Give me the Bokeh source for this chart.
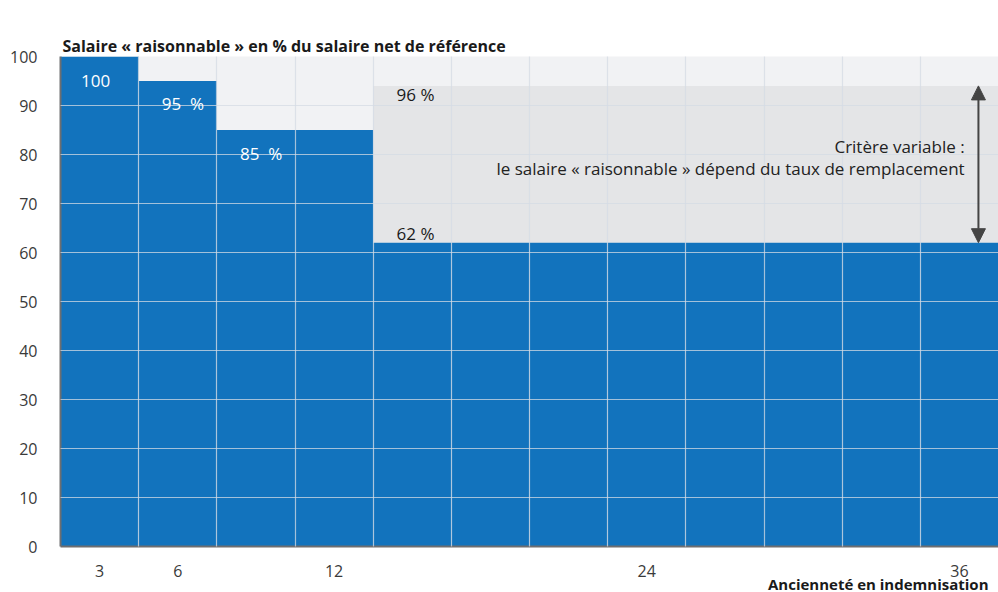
from bokeh.plotting import figure
from bokeh.models import (FixedTicker, Label, Arrow, NormalHead, Title)
from bokeh.embed import file_html
from bokeh.resources import INLINE

# ---- data ----
months = [3, 6, 9, 12, 15, 18, 21, 24, 27, 30, 33, 36]
salaire = [100, 95, 85, 85, 62, 62, 62, 62, 62, 62, 62, 62]
band_low = [62] * 8
band_high = [94] * 8
band_months = months[4:]
x_tick_labels = [3, 6, 12, 24, 36]
y_ticks = list(range(0, 101, 10))
step = 3

FONT = "Open Sans"
BLUE = "#1273bd"

p = figure(width=998, height=592, output_backend="svg", toolbar_location=None,
           title=None,
           x_range=(months[0] - step / 2, months[-1] + step / 2), y_range=(0, 100),
           min_border_left=60, min_border_right=0, min_border_top=56,
           min_border_bottom=46)

p.background_fill_color = "#f1f2f4"
p.border_fill_color = "white"
p.outline_line_color = None

# grey band (variable criterion)
p.vbar(x=band_months, bottom=band_low, top=band_high, width=step,
       fill_color="#e4e5e7", line_color=None)
# bars
p.vbar(x=months, top=salaire, width=step, fill_color=BLUE, line_color=None)

# grids
bounds = [m + step / 2 for m in months[:-1]]
p.xgrid.ticker = FixedTicker(ticks=bounds)
p.ygrid.ticker = FixedTicker(ticks=y_ticks)
for g in (p.xgrid, p.ygrid):
    g.level = "guide"
    g.grid_line_color = "#d4dbe4"
    g.grid_line_alpha = 0.75
    g.grid_line_width = 1.2

# axes
p.xaxis.ticker = FixedTicker(ticks=x_tick_labels)
p.yaxis.ticker = FixedTicker(ticks=y_ticks)
for ax in (p.xaxis, p.yaxis):
    ax.axis_line_color = "#6d6e71"
    ax.axis_line_width = 2
    ax.major_tick_line_color = None
    ax.minor_tick_line_color = None
    ax.major_label_text_font = FONT
    ax.major_label_text_font_size = "16px"
    ax.major_label_text_color = "#3a3a3a"
p.yaxis.major_label_standoff = 17
p.xaxis.major_label_standoff = 12

# x axis title, right aligned, below the tick labels
p.add_layout(Title(text="Ancienneté en indemnisation", align="right",
                   text_font=FONT, text_font_style="bold", text_font_size="15px",
                   text_color="#1a1a1a", standoff=-15, offset=10), "below")

# chart title first, then an invisible spacer (ends up between title and frame)
p.add_layout(Title(text="Salaire « raisonnable » en % du salaire net de référence",
                   text_font=FONT, text_font_style="bold", text_font_size="16px",
                   text_color="#1a1a1a", standoff=0, offset=2, align="left"), "above")
p.add_layout(Title(text=".", text_alpha=0, text_font=FONT, text_font_style="bold",
                   text_font_size="16px", standoff=2), "above")

# bar labels
lab = dict(text_font=FONT, text_font_size="17px", text_baseline="middle")
p.add_layout(Label(x=months[0] - 0.15, y=95.1, text="100", text_align="center",
                   text_color="white", **lab))
p.add_layout(Label(x=months[1] + 0.2, y=90.4, text="95\u00a0\u00a0%", text_align="center",
                   text_color="white", **lab))
p.add_layout(Label(x=months[2] + 0.2, y=80.2, text="85\u00a0\u00a0%", text_align="center",
                   text_color="white", **lab))
p.add_layout(Label(x=months[4] - 0.6, y=92.2, text="96 %", text_align="left",
                   text_color="#1a1a1a", **lab))
p.add_layout(Label(x=months[4] - 0.6, y=63.8, text="62 %", text_align="left",
                   text_color="#1a1a1a", **lab))

# annotation
ann = dict(text_font=FONT, text_font_size="17px", text_baseline="middle",
           text_align="right", text_color="#222222")
p.add_layout(Label(x=36.2, y=81.6, text="Critère variable :", **ann))
p.add_layout(Label(x=36.2, y=77.1,
                   text="le salaire « raisonnable » dépend du taux de remplacement", **ann))

p.add_layout(Arrow(x_start=36.73, y_start=band_low[0], x_end=36.73, y_end=band_high[0],
                   line_color="#444444", line_width=2,
                   start=NormalHead(size=14, fill_color="#444444", line_color="#444444"),
                   end=NormalHead(size=14, fill_color="#444444", line_color="#444444")))

open("out.html", "w").write(file_html(p, INLINE))
